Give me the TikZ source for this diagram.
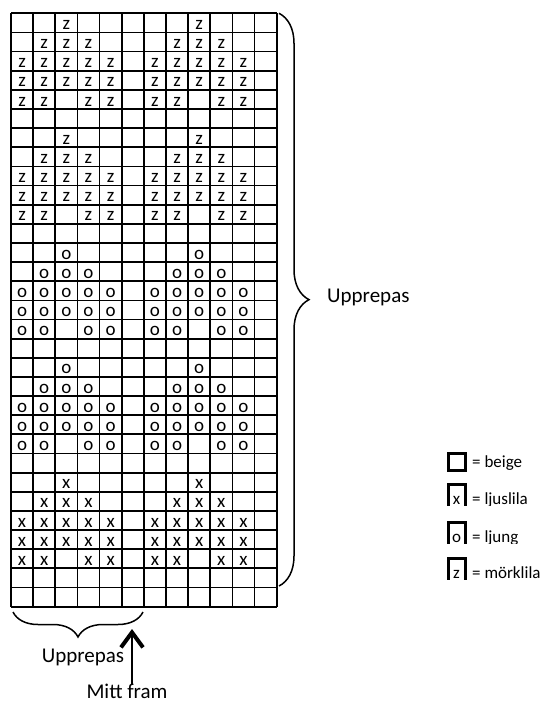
\documentclass[tikz,border=0pt]{standalone}
\usepackage{fontspec}
\setmainfont{Carlito}
\usetikzlibrary{arrows.meta,decorations.pathreplacing,positioning}
\tikzset{
    gridline/.style={line width=1.8pt, black},
    stitch/.style={anchor=base, inner sep=0pt, font=\fontsize{19}{19}\selectfont},
    keybox/.style={draw, line width=3pt, minimum width=17pt, inner sep=0pt},
    keytext/.style={anchor=base west, inner sep=0pt, font=\fontsize{17}{17}\selectfont},
    repbrace/.style={decorate, decoration={brace, amplitude=#1}, line width=1.5pt},
    note/.style={inner sep=0pt, font=\fontsize{21}{21}\selectfont},
}
\def\cellw{22.14}
\def\cellh{19.14}

\begin{document}
\begin{tikzpicture}[x=1pt, y=-1pt]
    \useasboundingbox (0,0) rectangle (541,702);

    % chart grid, 12 x 31
    \foreach \i in {0,...,12}
        \draw[gridline] (11+\i*\cellw, 13.3) -- (11+\i*\cellw, 13.3+31*\cellh);
    \foreach \j in {0,...,31}
        \draw[gridline] (11, 13.3+\j*\cellh) -- (11+12*\cellw, 13.3+\j*\cellh);

    % motifs
    \foreach \top/\st in {1/z, 7/z, 13/o, 19/o, 25/x} {
        \foreach \dr/\cols in {0/{3,9}, 1/{2,3,4,8,9,10}, 2/{1,2,3,4,5,7,8,9,10,11},
                               3/{1,2,3,4,5,7,8,9,10,11}, 4/{1,2,4,5,7,8,10,11}} {
            \pgfmathtruncatemacro\row{\top+\dr}
            \foreach \c in \cols
                \node[stitch] (\st\row-\c) at (11+\c*\cellw-0.5*\cellw, 13.3+\row*\cellh-3) {\st};
        }
    }

    % repeat braces
    \coordinate (rtop) at (279,13.3);
    \coordinate (rbot) at (279,586);
    \draw[repbrace=30pt] (rtop) -- (rbot);
    \node[note, anchor=west] (reprows) at (327,297) {Upprepas};

    \coordinate (bleft) at (13,612);
    \coordinate (bright) at (143,612);
    \draw[repbrace=25pt] (bright) -- (bleft);
    \node[note] (repcols) at (83,657) {Upprepas};

    % centre front
    \node[note] (mitt) at (127,691) {Mitt fram};
    \coordinate (mid) at (132,629);
    \draw[line width=2.6pt, -{Straight Barb[length=15pt,width=22pt,line width=4pt]}] (mitt.north -| mid) -- (mid);

    % legend, cut off at the bottom as in the chart
    \foreach \y/\st/\name/\bh/\cb [count=\k] in {467//beige/17/4.5, 504/x/ljuslila/23/1.5,
                                                542/o/ljung/23/1.5, 578/z/mörklila/23/1.5} {
        \begin{scope}
            \clip (440,\y-30) rectangle (541,\y+\cb);
            \node[keybox, minimum height=\bh pt] (key\k) at (456.5,\y+3-\bh/2) {};
            \node[stitch, font=\fontsize{17}{17}\selectfont] (keyst\k) at (456.5,\y) {\st};
            \node[keytext] (keytxt\k) at (472,\y) {= \name};
        \end{scope}
    }
\end{tikzpicture}
\end{document}
